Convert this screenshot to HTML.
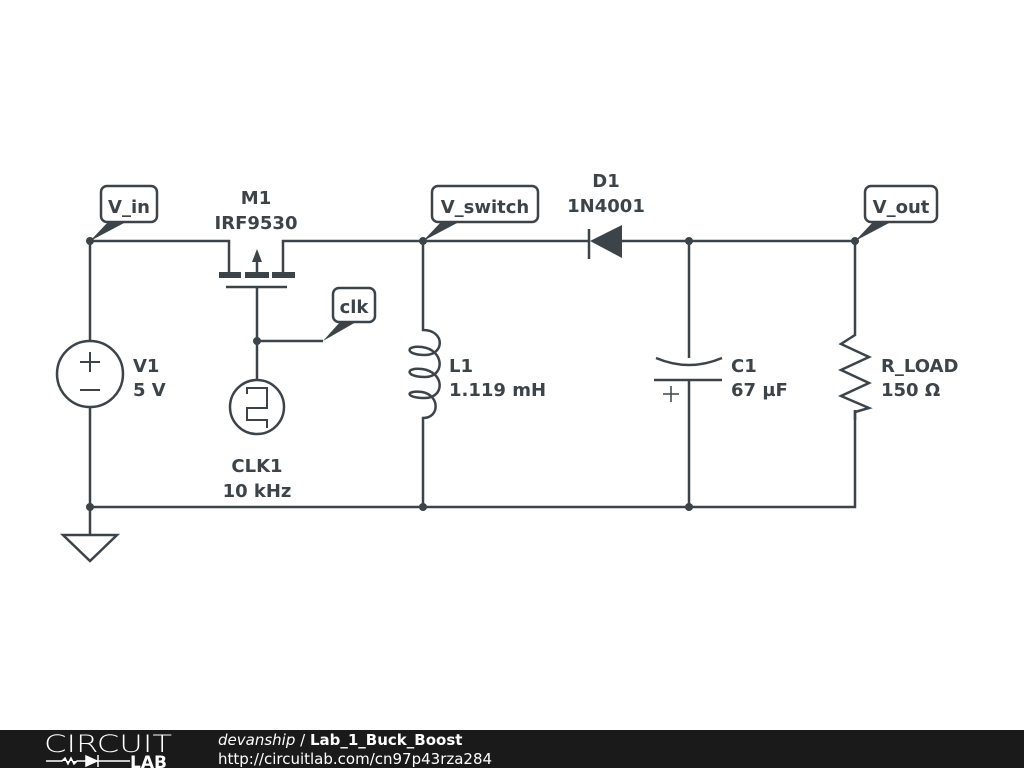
<!DOCTYPE html>
<html><head><meta charset="utf-8"><style>
html,body{margin:0;padding:0;width:1024px;height:768px;overflow:hidden;background:#fff}
svg{position:absolute;left:0;top:0}
</style></head><body>
<svg width="1024" height="768" viewBox="0 0 1024 768" xmlns="http://www.w3.org/2000/svg" font-family="'DejaVu Sans', 'Liberation Sans', sans-serif">
<g stroke="#3d4449" stroke-width="2.5" fill="none" stroke-linecap="butt">
<path d="M90,241 H229 V273 M283,273 V241 H590 M622,241 H855"/>
<path d="M90,241 V341 M90,407 V535"/>
<circle cx="90" cy="374" r="33"/>
<path d="M80,362 H100 M90,352 V372 M80,390 H100" stroke-width="2"/>
<path d="M63,535 H117 L90,561 Z"/>
<path d="M90,507 H855 V410"/>
<path d="M257,273 V252"/>
<path d="M226,287 H287 M257,287 V380 M257,341 H323"/>
<circle cx="257" cy="407" r="27"/>
<path d="M247,394 V388 H267 V408 H247 V420 H267 V428" stroke-width="2"/>
<path d="M423,241 V330 C445,330 445,355 425,355 C405,355 405,345 422,347 C445,350 445,377 425,377 C405,377 405,367 422,369 C445,372 445,398 425,398 C405,398 405,390 422,392 C440,395 440,418 423,418 V507"/>
<path d="M689,241 V358 M689,380 V507"/>
<path d="M656,358 Q689,372 722,358"/>
<path d="M654,380 H722"/>
<path d="M663,394 H679 M671,386 V402" stroke-width="1.5"/>
<path d="M855,241 V335 L841,344 L869,357 L841,370 L869,383 L841,396 L869,408 L855,412 V420"/>
<path d="M589,229 V259"/>
</g>
<g fill="#3d4449">
<rect x="219" y="272" width="22" height="6"/>
<rect x="245" y="272" width="24" height="6"/>
<rect x="272" y="272" width="23" height="6"/>
<polygon points="257,249 252,262 262,262"/>
<polygon points="590,241 622,225 622,258"/>
<circle cx="90" cy="241" r="4"/><circle cx="423" cy="241" r="4"/><circle cx="689" cy="241" r="4"/><circle cx="855" cy="241" r="4"/>
<circle cx="257" cy="341" r="4"/><circle cx="90" cy="507" r="4"/><circle cx="423" cy="507" r="4"/><circle cx="689" cy="507" r="4"/>
<polygon points="90,241 108,222 126,222"/>
<polygon points="423,241 441,222 459,222"/>
<polygon points="855,241 873,222 891,222"/>
<polygon points="323,341 340,322 356,322"/>
</g>
<g fill="#fff" stroke="#3d4449" stroke-width="2.5">
<rect x="101" y="186" width="56" height="36" rx="6"/>
<rect x="432" y="186" width="106" height="36" rx="6"/>
<rect x="865" y="186" width="72" height="36" rx="6"/>
<rect x="333" y="288" width="42" height="34" rx="6"/>
</g>
<g fill="#3d4449" font-weight="bold" font-size="18">
<text x="129" y="213" text-anchor="middle">V_in</text>
<text x="485" y="213" text-anchor="middle">V_switch</text>
<text x="901" y="213" text-anchor="middle">V_out</text>
<text x="354" y="313" text-anchor="middle">clk</text>
<text x="256" y="204" text-anchor="middle">M1</text>
<text x="256" y="229" text-anchor="middle">IRF9530</text>
<text x="606" y="187" text-anchor="middle">D1</text>
<text x="606" y="212" text-anchor="middle">1N4001</text>
<text x="133" y="372">V1</text>
<text x="133" y="396">5 V</text>
<text x="257" y="472" text-anchor="middle">CLK1</text>
<text x="257" y="497" text-anchor="middle">10 kHz</text>
<text x="449" y="372">L1</text>
<text x="449" y="396">1.119 mH</text>
<text x="731" y="372">C1</text>
<text x="731" y="396">67 µF</text>
<text x="881" y="372">R_LOAD</text>
<text x="881" y="396">150 Ω</text>
</g>
<rect x="0" y="730" width="1024" height="38" fill="#1a1a1a"/>
<text x="44" y="752" fill="#fff" font-size="24" font-family="'DejaVu Sans', sans-serif" font-weight="200" textLength="128" lengthAdjust="spacingAndGlyphs">CIRCUIT</text>
<path d="M46,761 H62 l3,-3 3,6 3,-6 3,6 3,-3 H98 M98,755 V767 M86,756 L97,761 L86,766 Z M98,761 H130" stroke="#fff" stroke-width="1.5" fill="#fff"/>
<text x="130" y="768" fill="#fff" font-size="17" font-weight="bold">LAB</text>
<text x="218" y="745" fill="#fff" font-size="15"><tspan font-style="italic">devanship</tspan> / <tspan font-weight="bold">Lab_1_Buck_Boost</tspan></text>
<text x="218" y="764" fill="#fff" font-size="15">http://circuitlab.com/cn97p43rza284</text>
</svg>
</body></html>
